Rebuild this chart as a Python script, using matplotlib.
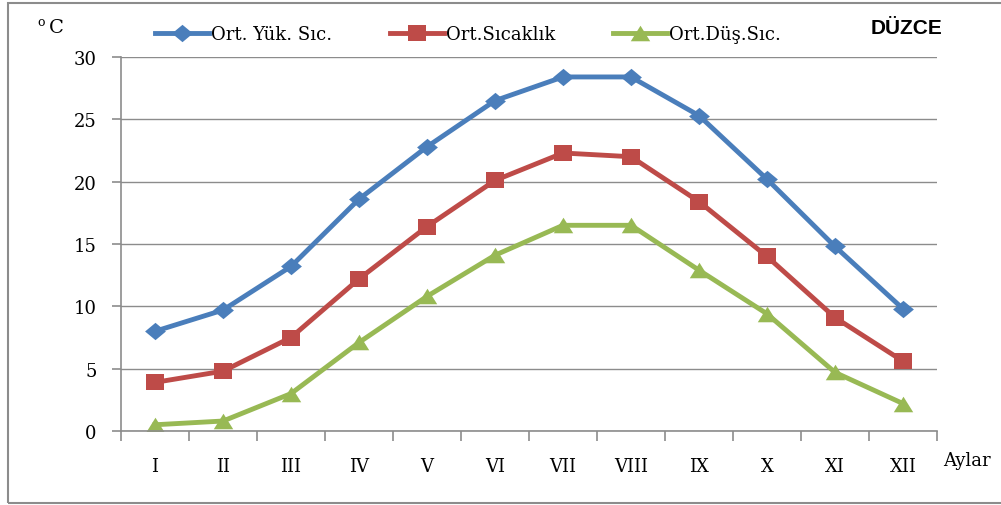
import matplotlib
matplotlib.use("Agg")
import matplotlib.pyplot as plt
from matplotlib.patches import Rectangle

months = ["I", "II", "III", "IV", "V", "VI", "VII", "VIII", "IX", "X", "XI", "XII"]
max_temp = [8.0, 9.7, 13.2, 18.6, 22.8, 26.5, 28.4, 28.4, 25.3, 20.2, 14.8, 9.8]
mean_temp = [3.9, 4.8, 7.5, 12.2, 16.4, 20.1, 22.3, 22.0, 18.4, 14.0, 9.1, 5.6]
min_temp = [0.5, 0.8, 3.0, 7.1, 10.8, 14.1, 16.5, 16.5, 12.9, 9.4, 4.7, 2.2]
series_labels = ["Ort. Yük. Sıc.", "Ort.Sıcaklık", "Ort.Düş.Sıc."]

W, H = 1001, 506
fig = plt.figure(figsize=(W / 100, H / 100), dpi=100)
ax = fig.add_axes([121 / W, 1 - 432 / H, (937 - 121) / W, (432 - 58) / H])

serif = "DejaVu Serif"
x = list(range(len(months)))

# markers a bit wider than tall, like the Excel original
diamond = [(-1.2, 0), (0, 1), (1.2, 0), (0, -1), (-1.2, 0)]
square = [(-1.2, -1), (1.2, -1), (1.2, 1), (-1.2, 1), (-1.2, -1)]
triangle = [(-1.25, -1), (1.25, -1), (0, 1), (-1.25, -1)]

blue, red, green = "#4A7EBB", "#BE4B48", "#98B954"
l1, = ax.plot(x, max_temp, "-", marker=diamond, color=blue, lw=3.5, ms=15, mew=0,
              label=series_labels[0])
l2, = ax.plot(x, mean_temp, "-", marker=square, color=red, lw=3.5, ms=13.5, mew=0,
              label=series_labels[1])
l3, = ax.plot(x, min_temp, "-", marker=triangle, color=green, lw=3.5, ms=14, mew=0,
              label=series_labels[2])

ax.set_xlim(-0.5, 11.5)
ax.set_ylim(0, 30)
ax.set_yticks(range(0, 31, 5))
ax.grid(axis="y", color="#8c8c8c", lw=1)
ax.set_axisbelow(True)
for s in ["top", "right"]:
    ax.spines[s].set_visible(False)
for s in ["left", "bottom"]:
    ax.spines[s].set_color("#8c8c8c")
    ax.spines[s].set_linewidth(1.2)

ax.set_xticks(x)
ax.set_xticklabels(months, fontfamily=serif, fontsize=13)
ax.set_xticks([i - 0.5 for i in range(13)], minor=True)
ax.tick_params(axis="x", which="major", length=0, pad=19)
ax.tick_params(axis="x", which="minor", length=7, color="#8c8c8c", width=1.2)
ax.tick_params(axis="y", length=6.5, color="#8c8c8c", width=1.2, pad=11)
for t in ax.get_yticklabels():
    t.set_fontfamily(serif)
    t.set_fontsize(13)

fig.text(967 / W, 1 - 461 / H, "Aylar", fontfamily=serif, fontsize=13,
         ha="center", va="center")
fig.text(41 / W, 1 - 23 / H, "o", fontfamily=serif, fontsize=9, ha="center", va="center")
fig.text(56 / W, 1 - 28 / H, "C", fontfamily=serif, fontsize=14, ha="center", va="center")
fig.text(906 / W, 1 - 28 / H, "DÜZCE", fontfamily="Liberation Sans", fontweight="bold",
         fontsize=15, ha="center", va="center")

fig.legend(handles=[l1, l2, l3], loc="center left", bbox_to_anchor=(155 / W, 1 - 35 / H),
           ncol=3, frameon=False, prop={"family": serif, "size": 13},
           handlelength=3.0, handletextpad=0.1, columnspacing=3.2,
           borderpad=0, borderaxespad=0)

fig.add_artist(Rectangle((8 / W, 1 - 504 / H), 1.2, 500 / H,
                         transform=fig.transFigure, fill=False,
                         edgecolor="#8c8c8c", lw=1.5, clip_on=False))

fig.savefig("out.png", dpi=100)
